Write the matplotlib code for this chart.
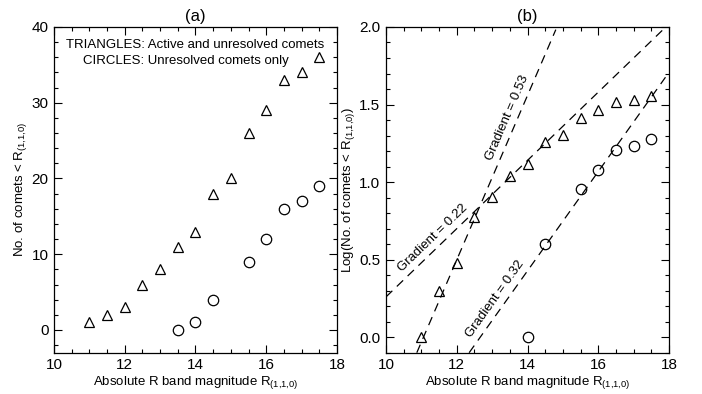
import numpy as np
import matplotlib
matplotlib.use("Agg")
import matplotlib.pyplot as plt
from matplotlib.ticker import MultipleLocator, FormatStrFormatter

plt.rcParams['font.family'] = ['Liberation Sans', 'DejaVu Sans']
plt.rcParams['mathtext.fontset'] = 'custom'
plt.rcParams['mathtext.rm'] = 'Liberation Sans'

# cumulative counts of comets brighter than R(1,1,0)
mag_tri = [11.0, 11.5, 12.0, 12.5, 13.0, 13.5, 14.0, 14.5, 15.0, 15.5, 16.0, 16.5, 17.0, 17.5]
n_tri = [1, 2, 3, 6, 8, 11, 13, 18, 20, 26, 29, 33, 34, 36]
mag_circ = [13.5, 14.0, 14.5, 15.5, 16.0, 16.5, 17.0, 17.5]
n_circ = [0, 1, 4, 9, 12, 16, 17, 19]

# fitted lines in panel (b)
fit_slopes = [0.53, 0.22, 0.32]
fit_intercepts = [-5.861, -1.94, -4.052]
fit_xmin = [10.87, 10.0, 12.35]
fit_xmax = [14.8, 17.9, 17.9]
label_x = [13.68, 11.52, 13.32]   # where along each line its label sits

sub = r'R$_{\mathregular{(1{,}1{,}0)}}$'
xlab = 'Absolute R band magnitude ' + sub

fig = plt.figure(figsize=(7.02, 3.94), dpi=100)
ax1 = fig.add_axes([0.0769, 0.1048, 0.4031, 0.8267])
ax2 = fig.add_axes([0.5499, 0.1048, 0.4031, 0.8267])

mk = dict(linestyle='none', markerfacecolor='none', markeredgecolor='black',
          markeredgewidth=0.9, markersize=7.5)

ax1.plot(mag_tri, n_tri, marker='^', **mk)
ax1.plot(mag_circ, n_circ, marker='o', **mk)
ax1.set_xlim(10, 18)
ax1.set_ylim(-3, 40)
ax1.yaxis.set_major_locator(MultipleLocator(10))
ax1.yaxis.set_minor_locator(MultipleLocator(2))
ax1.set_ylabel('No. of comets < ' + sub, fontsize=9.5, labelpad=2)
ax1.set_title('(a)', fontsize=12, pad=4)
ax1.text(0.5, 0.945, 'TRIANGLES: Active and unresolved comets', transform=ax1.transAxes,
         ha='center', va='center', fontsize=9.5)
ax1.text(0.465, 0.896, 'CIRCLES: Unresolved comets only', transform=ax1.transAxes,
         ha='center', va='center', fontsize=9.5)

log_tri = np.log10(np.array(n_tri, dtype=float))
circ = np.array(n_circ, dtype=float)
keep = circ > 0
log_circ = np.log10(circ[keep])
ax2.plot(mag_tri, log_tri, marker='^', **mk)
ax2.plot(np.array(mag_circ)[keep], log_circ, marker='o', **mk)
for s, c, x0, x1 in zip(fit_slopes, fit_intercepts, fit_xmin, fit_xmax):
    xx = np.array([x0, x1])
    ax2.plot(xx, s * xx + c, color='black', lw=0.9, dashes=(7, 5))
ax2.set_xlim(10, 18)
ax2.set_ylim(-0.1, 2.0)
ax2.yaxis.set_major_locator(MultipleLocator(0.5))
ax2.yaxis.set_minor_locator(MultipleLocator(0.1))
ax2.yaxis.set_major_formatter(FormatStrFormatter('%.1f'))
ax2.set_ylabel('Log(No. of comets < ' + sub + ')', fontsize=9.5, labelpad=2)
ax2.set_title('(b)', fontsize=12, pad=4)

# labels follow the lines in screen space, set just above-left of each line
fig.canvas.draw()
for s, c, lx in zip(fit_slopes, fit_intercepts, label_x):
    p0 = ax2.transData.transform((10, 0))
    p1 = ax2.transData.transform((11, s))
    ang = np.arctan2(p1[1] - p0[1], p1[0] - p0[0])
    off = 3.0  # points, perpendicular gap
    ax2.annotate(f'Gradient = {s:.2f}', xy=(lx, s * lx + c),
                 xytext=(-off * np.sin(ang), off * np.cos(ang)), textcoords='offset points',
                 rotation=np.degrees(ang), rotation_mode='anchor',
                 ha='center', va='bottom', fontsize=9.5)

for ax in (ax1, ax2):
    ax.xaxis.set_major_locator(MultipleLocator(2))
    ax.xaxis.set_minor_locator(MultipleLocator(0.5))
    ax.set_xlabel(xlab, fontsize=9.5, labelpad=1)
    ax.tick_params(which='both', direction='in', top=True, right=True, labelsize=11, width=0.8)
    ax.tick_params(which='major', length=6, pad=4)
    ax.tick_params(which='minor', length=3)
    for sp in ax.spines.values():
        sp.set_linewidth(0.9)

fig.savefig('out.png', dpi=100)
